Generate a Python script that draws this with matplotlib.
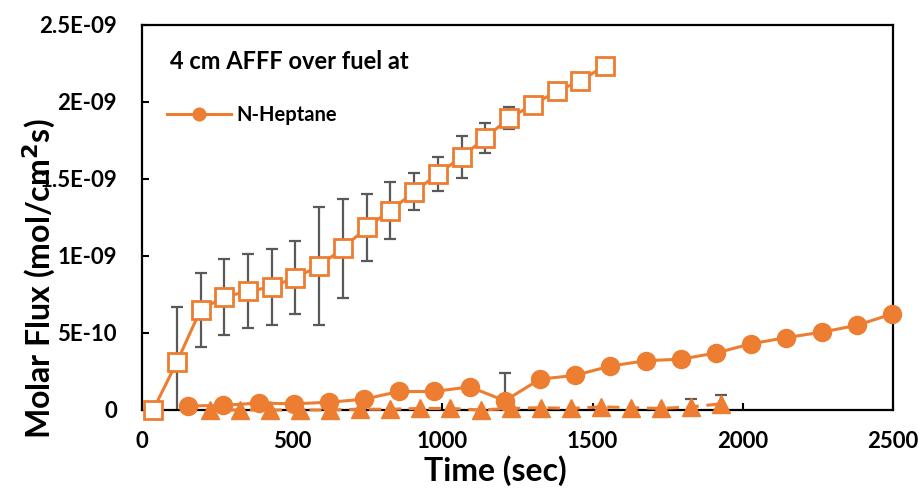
import matplotlib
matplotlib.use("Agg")
import matplotlib.pyplot as plt
import numpy as np

plt.rcParams['font.family'] = ['Lato', 'DejaVu Sans']
plt.rcParams['font.weight'] = 'bold'

ORANGE = '#ED7D31'
GREY = '#595959'

# 4 cm AFFF layer, open squares
sq_time = [37, 116, 195, 274, 353, 432, 511, 590, 669, 748,
           827, 906, 985, 1064, 1143, 1222, 1301, 1380, 1459, 1540]
sq_flux = [0.0, 0.31, 0.65, 0.735, 0.77, 0.80, 0.86, 0.935, 1.05, 1.185,
           1.295, 1.416, 1.532, 1.643, 1.766, 1.896, 1.98, 2.07, 2.136, 2.234]
sq_err = [0, 0.36, 0.24, 0.245, 0.24, 0.245, 0.24, 0.385, 0.32, 0.215,
          0.185, 0.12, 0.11, 0.135, 0.10, 0.07, 0, 0, 0, 0]

# N-Heptane, filled circles
c_time = [153, 270, 388, 505, 622, 739, 856, 973, 1091, 1208, 1325,
          1442, 1559, 1677, 1794, 1911, 2028, 2145, 2263, 2380, 2497]
c_flux = [0.026, 0.03, 0.045, 0.04, 0.05, 0.07, 0.12, 0.12, 0.15, 0.06, 0.20,
          0.225, 0.285, 0.32, 0.33, 0.37, 0.43, 0.47, 0.505, 0.55, 0.623]
c_err = [0, 0, 0, 0, 0, 0, 0, 0, 0, 0.18, 0,
         0, 0, 0, 0, 0, 0, 0, 0, 0, 0]

# filled triangles, dashed
t_time = [227, 327, 427, 527, 627, 727, 827, 927, 1027,
          1127, 1227, 1327, 1427, 1527, 1627, 1727, 1827, 1927]
t_flux = [0.0, 0.0, 0.0, 0.0, 0.0, 0.005, 0.005, 0.01, 0.01,
          0.0, 0.01, 0.015, 0.01, 0.02, 0.015, 0.01, 0.02, 0.04]
t_err = [0, 0, 0, 0, 0, 0, 0, 0, 0,
         0, 0, 0, 0, 0, 0, 0, 0.05, 0.06]

x_ticks = [0, 500, 1000, 1500, 2000, 2500]
y_ticks = [0, 0.5e-9, 1.0e-9, 1.5e-9, 2.0e-9, 2.5e-9]
y_tick_labels = ['0', '5E-10', '1E-09', '1.5E-09', '2E-09', '2.5E-09']

scale = 1e-9
sq_time, sq_flux, sq_err = np.array(sq_time), np.array(sq_flux) * scale, np.array(sq_err) * scale
c_time, c_flux, c_err = np.array(c_time), np.array(c_flux) * scale, np.array(c_err) * scale
t_time, t_flux, t_err = np.array(t_time), np.array(t_flux) * scale, np.array(t_err) * scale

fig = plt.figure(figsize=(9.2, 4.93), dpi=100)
ax = fig.add_axes([0.1543, 0.1684, 0.8163, 0.781])

# error bars first so the markers sit on top
for t, f, e in [(sq_time, sq_flux, sq_err), (c_time, c_flux, c_err), (t_time, t_flux, t_err)]:
    m = e > 0
    ax.errorbar(t[m], f[m], yerr=e[m], fmt='none', ecolor=GREY,
                elinewidth=1.6, capsize=4, capthick=1.6, zorder=2)

ax.plot(t_time, t_flux, '--', color=ORANGE, lw=2.2, dashes=(4, 2.5),
        marker='^', ms=12.5, mfc=ORANGE, mec=ORANGE, zorder=3, clip_on=False)
ax.plot(c_time, c_flux, '-', color=ORANGE, lw=2.2, marker='o', ms=13,
        mfc=ORANGE, mec=ORANGE, zorder=4, clip_on=False, label='N-Heptane')
ax.plot(sq_time, sq_flux, '-', color=ORANGE, lw=2.2, marker='s', ms=13,
        mfc='white', mec=ORANGE, mew=2, zorder=5, clip_on=False)

ax.set_xlim(0, 2500)
ax.set_ylim(0, 2.5e-9)
ax.set_xticks(x_ticks)
ax.set_yticks(y_ticks)
ax.set_yticklabels(y_tick_labels)
ax.tick_params(direction='in', length=5, width=1.5, labelsize=16)
ax.tick_params(axis='x', pad=15)
ax.tick_params(axis='y', pad=18)
for s in ax.spines.values():
    s.set_linewidth(1.6)

ax.set_xlabel('Time (sec)', fontsize=23, fontweight='bold')
ax.set_ylabel('Molar Flux (mol/cm$^\\mathbf{2}$s)', fontsize=23, fontweight='bold')
ax.xaxis.set_label_coords(0.471, -0.118)
ax.yaxis.set_label_coords(-0.112, 0.342)

ax.text(0.037, 0.904, '4 cm AFFF over fuel at', transform=ax.transAxes,
        fontsize=17, fontweight='bold', va='center', ha='left')
leg = ax.legend(loc='center left', bbox_to_anchor=(0.033, 0.766), frameon=False,
                borderpad=0, borderaxespad=0, handlelength=3.2, handletextpad=0.25,
                markerscale=0.7, prop={'size': 14.5, 'weight': 'bold'})

fig.savefig('out.png', dpi=100)
